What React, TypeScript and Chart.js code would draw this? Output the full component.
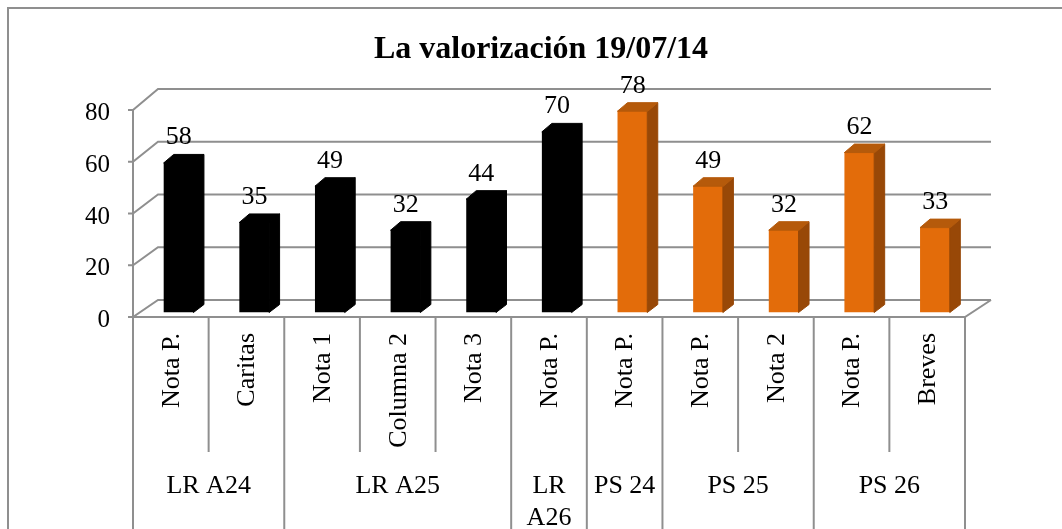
import React, { useEffect, useRef } from 'react';
import { Chart, registerables } from 'chart.js';

Chart.register(...registerables);

const chartTitle = 'La valorización 19/07/14';
const categories = ['Nota P.', 'Caritas', 'Nota 1', 'Columna 2', 'Nota 3', 'Nota P.', 'Nota P.', 'Nota P.', 'Nota 2', 'Nota P.', 'Breves'];
const groupLabels = ['LR A24', 'LR A25', 'LR A26', 'PS 24', 'PS 25', 'PS 26'];
const groupSizes = [2, 3, 1, 1, 2, 2];
const values = [58, 35, 49, 32, 44, 70, 78, 49, 32, 62, 33];
const yTicks = [0, 20, 40, 60, 80];

const W = 1062;
const H = 529;
const FONT = '"Liberation Serif", "Times New Roman", Times, serif';
const GRID = '#8f8f8f';

// group of each category (for colour)
const catGroup: number[] = [];
groupSizes.forEach((n, g) => {
  for (let i = 0; i < n; i++) catGroup.push(g);
});
const faceColors = (idx: number) => {
  const isPS = groupLabels[catGroup[idx]].startsWith('PS');
  return isPS
    ? { front: '#E36C0A', side: '#984807', top: '#B55A0B' }
    : { front: '#000000', side: '#000000', top: '#000000' };
};

const BAR_DX = 8;
const BAR_DY = -4.5;
const DEPTH_X = 10;
const DEPTH_Y = -8;

const backY = (yScale: any, v: number) => yScale.getPixelForValue(v) - 17 - 4 * (v / 80);

const plugin3d = {
  id: 'excel3d',
  beforeDatasetsDraw(chart: any) {
    const ctx = chart.ctx as CanvasRenderingContext2D;
    const area = chart.chartArea;
    const y = chart.scales.y;
    const left = area.left;
    const right = area.right;
    ctx.save();
    // outer border
    ctx.strokeStyle = GRID;
    ctx.lineWidth = 2;
    ctx.beginPath();
    ctx.moveTo(8, H);
    ctx.lineTo(8, 8);
    ctx.lineTo(W, 8);
    ctx.stroke();

    // back wall gridlines + diagonals + ticks
    ctx.lineWidth = 2;
    ctx.strokeStyle = GRID;
    yTicks.forEach((v) => {
      const fy = y.getPixelForValue(v);
      const by = backY(y, v);
      ctx.beginPath();
      ctx.moveTo(left - 5, fy);
      ctx.lineTo(left, fy);
      ctx.lineTo(left + 25, by);
      ctx.lineTo(right + 26, by);
      ctx.stroke();
    });
    // front vertical axis
    ctx.beginPath();
    ctx.moveTo(left, y.getPixelForValue(80));
    ctx.lineTo(left, y.getPixelForValue(0));
    ctx.stroke();
    // floor front edge + right diagonal
    const f0 = y.getPixelForValue(0);
    ctx.beginPath();
    ctx.moveTo(left, f0);
    ctx.lineTo(right, f0);
    ctx.lineTo(right + 26, backY(y, 0));
    ctx.stroke();

    // category separators
    const cw = (right - left) / categories.length;
    const groupEdges = new Set<number>([0]);
    let acc = 0;
    groupSizes.forEach((n) => {
      acc += n;
      groupEdges.add(acc);
    });
    for (let i = 0; i <= categories.length; i++) {
      const x = left + i * cw;
      ctx.beginPath();
      ctx.moveTo(x, f0);
      ctx.lineTo(x, groupEdges.has(i) ? H : 452);
      ctx.stroke();
    }
    ctx.restore();

    ctx.save();
    ctx.translate(BAR_DX, BAR_DY);
  },
  afterDatasetsDraw(chart: any) {
    const ctx = chart.ctx as CanvasRenderingContext2D;
    ctx.restore();
    const meta = chart.getDatasetMeta(0);
    ctx.save();
    meta.data.forEach((el: any, i: number) => {
      const p = el.getProps(['x', 'y', 'base', 'width'], true);
      const xl = p.x - p.width / 2 + BAR_DX;
      const xr = p.x + p.width / 2 + BAR_DX;
      const top = p.y + BAR_DY;
      const bot = p.base + BAR_DY;
      const c = faceColors(i);
      ctx.lineWidth = 1;
      ctx.lineJoin = 'round';
      // side face
      ctx.fillStyle = c.side;
      ctx.strokeStyle = c.side;
      ctx.beginPath();
      ctx.moveTo(xr - 0.5, top);
      ctx.lineTo(xr + DEPTH_X, top + DEPTH_Y);
      ctx.lineTo(xr + DEPTH_X, bot + DEPTH_Y);
      ctx.lineTo(xr - 0.5, bot);
      ctx.closePath();
      ctx.fill();
      ctx.stroke();
      // top face
      ctx.fillStyle = c.top;
      ctx.strokeStyle = c.top;
      ctx.beginPath();
      ctx.moveTo(xl, top + 0.5);
      ctx.lineTo(xl + DEPTH_X, top + DEPTH_Y);
      ctx.lineTo(xr + DEPTH_X, top + DEPTH_Y);
      ctx.lineTo(xr, top + 0.5);
      ctx.closePath();
      ctx.fill();
      ctx.stroke();
      // value label
      ctx.fillStyle = '#000';
      ctx.font = `26px ${FONT}`;
      ctx.textAlign = 'center';
      ctx.textBaseline = 'alphabetic';
      ctx.fillText(String(values[i]), (xl + xr) / 2, top - 18);
    });
    ctx.restore();
  },
  afterDraw(chart: any) {
    const ctx = chart.ctx as CanvasRenderingContext2D;
    const area = chart.chartArea;
    const y = chart.scales.y;
    const x = chart.scales.x;
    ctx.save();
    ctx.fillStyle = '#000';
    // title
    ctx.font = `bold 32px ${FONT}`;
    ctx.textAlign = 'center';
    ctx.textBaseline = 'alphabetic';
    ctx.fillText(chartTitle, 541, 58);
    // y tick labels
    ctx.font = `25px ${FONT}`;
    ctx.textAlign = 'right';
    yTicks.forEach((v) => {
      ctx.fillText(String(v), 110, y.getPixelForValue(v) + 10);
    });
    // rotated category labels
    ctx.font = `26px ${FONT}`;
    categories.forEach((c, i) => {
      const cx = x.getPixelForValue(i);
      ctx.save();
      ctx.translate(cx + 1, 333);
      ctx.rotate(-Math.PI / 2);
      ctx.textAlign = 'right';
      ctx.textBaseline = 'middle';
      ctx.fillText(c, 0, 0);
      ctx.restore();
    });
    // group labels
    const cw = (area.right - area.left) / categories.length;
    let start = 0;
    ctx.textAlign = 'center';
    ctx.textBaseline = 'alphabetic';
    groupLabels.forEach((g, gi) => {
      const n = groupSizes[gi];
      const gx = area.left + (start + n / 2) * cw;
      const maxW = n * cw - 6;
      const lines: string[] = [];
      if (ctx.measureText(g).width > maxW) {
        g.split(' ').forEach((w) => lines.push(w));
      } else {
        lines.push(g);
      }
      lines.forEach((ln, li) => ctx.fillText(ln, gx, 493 + li * 32));
      start += n;
    });
    ctx.restore();
  },
};

export default function App() {
  const ref = useRef<HTMLCanvasElement | null>(null);
  useEffect(() => {
    if (!ref.current) return;
    const chart = new Chart(ref.current, {
      type: 'bar',
      data: {
        labels: categories,
        datasets: [
          {
            data: values,
            backgroundColor: values.map((_, i) => faceColors(i).front),
            borderWidth: 0,
            barPercentage: 0.4,
            categoryPercentage: 1,
          },
        ],
      },
      options: {
        responsive: false,
        animation: false,
        devicePixelRatio: 1,
        layout: { padding: { left: 133, right: W - 965, top: 110, bottom: H - 317 } },
        scales: {
          x: { display: false, offset: true },
          y: { display: false, min: 0, max: 80 },
        },
        plugins: {
          legend: { display: false },
          tooltip: { enabled: false },
          title: { display: false },
        },
      },
      plugins: [plugin3d],
    });
    return () => chart.destroy();
  }, []);
  return (
    <div style={{ position: 'fixed', left: 0, top: 0, width: W, height: H, background: '#fff' }}>
      <canvas ref={ref} width={W} height={H} style={{ display: 'block', width: W, height: H }} />
    </div>
  );
}
